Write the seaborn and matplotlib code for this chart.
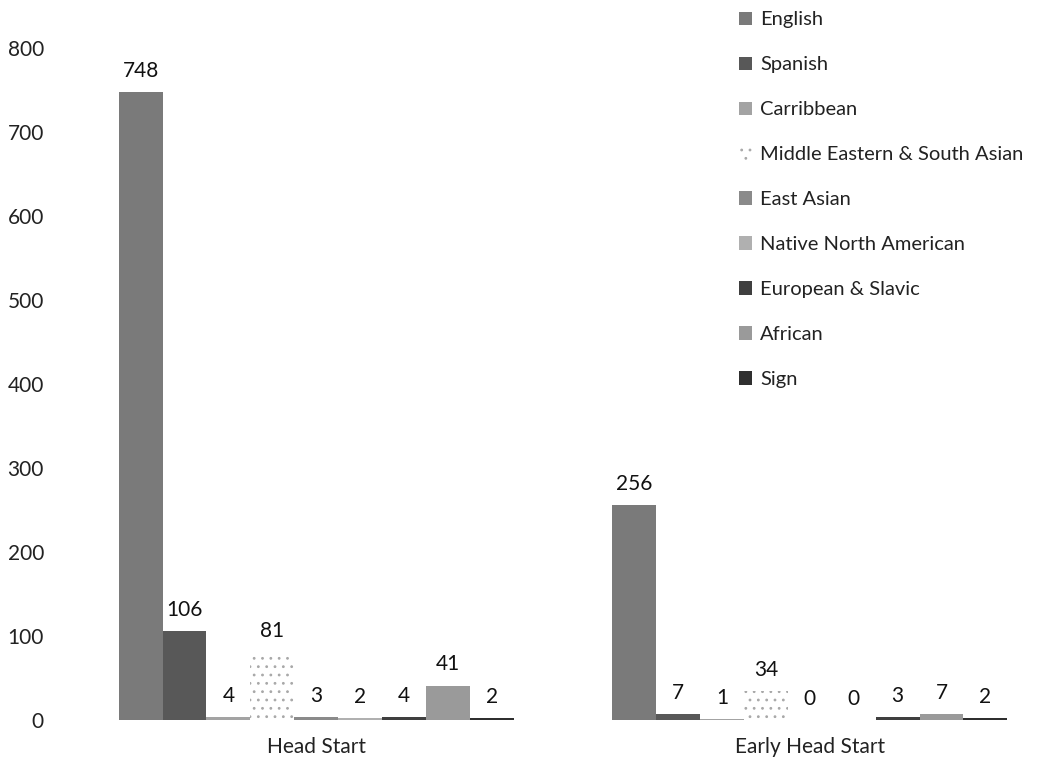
import matplotlib
matplotlib.use("Agg")
import matplotlib.pyplot as plt
import seaborn as sns
import pandas as pd
from matplotlib.patches import Patch

programs = ["Head Start", "Early Head Start"]
languages = ["English", "Spanish", "Carribbean", "Middle Eastern & South Asian",
             "East Asian", "Native North American", "European & Slavic", "African", "Sign"]
head_start = [748, 106, 4, 81, 3, 2, 4, 41, 2]
early_head_start = [256, 7, 1, 34, 0, 0, 3, 7, 2]

colors = ["#7a7a7a", "#585858", "#a3a3a3", "#ffffff", "#8a8a8a",
          "#b0b0b0", "#3f3f3f", "#9a9a9a", "#2f2f2f"]

rows = []
for lang, a, b in zip(languages, head_start, early_head_start):
    rows.append({"Program": programs[0], "Language": lang, "Count": a})
    rows.append({"Program": programs[1], "Language": lang, "Count": b})
df = pd.DataFrame(rows)

sns.set_theme(style="white")
plt.rcParams["font.family"] = ["Lato", "DejaVu Sans"]
plt.rcParams["hatch.linewidth"] = 0.8

FS = 15
LFS = 14.5

fig = plt.figure(figsize=(10.55, 7.57), dpi=100)
ax = fig.add_axes([94 / 1055, 37 / 757, (1032 - 94) / 1055, (720 - 48) / 757])

sns.barplot(data=df, x="Program", y="Count", hue="Language", order=programs,
            hue_order=languages, palette=colors, width=0.8, gap=0,
            dodge=True, ax=ax, legend=False, saturation=1)

for i, cont in enumerate(ax.containers):
    for p in cont:
        p.set_edgecolor("none")
        if languages[i].startswith("Middle"):
            p.set_hatch("..")
            p.set_edgecolor("#a8a8a8")
            p.set_linewidth(0)
    ax.bar_label(cont, labels=[str(v) for v in (head_start[i], early_head_start[i])],
                 padding=8, fontsize=FS, color="#111111")

ax.set_xlim(-0.45, 1.45)
ax.set_ylim(0, 800)
ax.set_yticks(range(0, 801, 100))
ax.set_xlabel("")
ax.set_ylabel("")
for s in ax.spines.values():
    s.set_visible(False)
ax.tick_params(axis="y", length=0, pad=36, labelsize=FS, labelcolor="#222222")
ax.tick_params(axis="x", length=0, pad=12, labelsize=FS, labelcolor="#222222")
ax.grid(False)

handles = []
for lang, c in zip(languages, colors):
    if lang.startswith("Middle"):
        handles.append(Patch(facecolor="white", edgecolor="#a8a8a8", hatch="..", linewidth=0))
    else:
        handles.append(Patch(facecolor=c, edgecolor="none"))
fig.legend(handles, languages, loc="upper left", bbox_to_anchor=(721 / 1055, 1.009),
           frameon=False, fontsize=LFS, handlelength=0.65, handleheight=0.65,
           handletextpad=0.4, labelspacing=1.39, labelcolor="#222222")

fig.savefig("out.png", dpi=100)
